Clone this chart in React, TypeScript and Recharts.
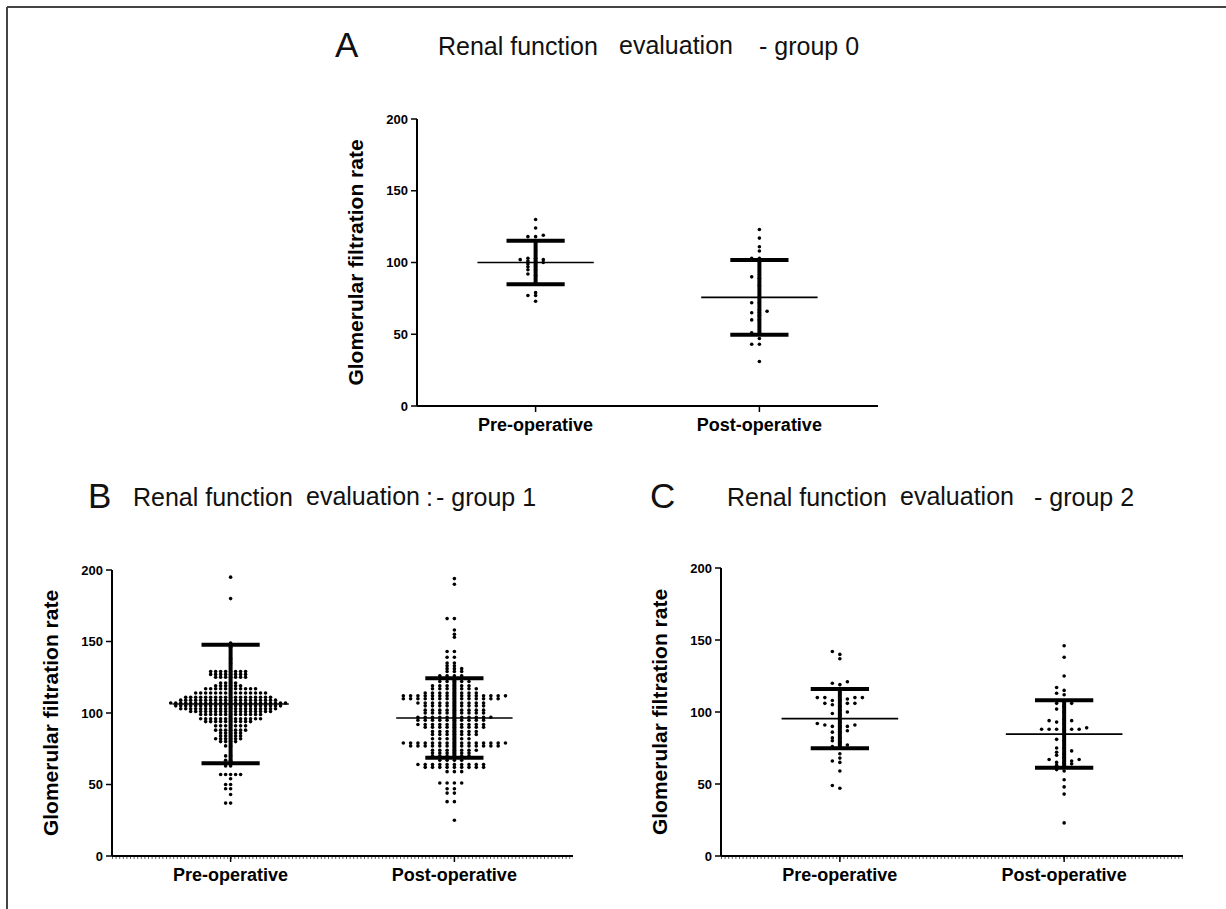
import { ScatterChart, Scatter, XAxis, YAxis, ReferenceLine } from "recharts";

const categories = ["Pre-operative", "Post-operative"];
const yTicks = [0, 50, 100, 150, 200];
const yLabel = "Glomerular filtration rate";

// group 0
const group0Pre = [130, 124, 119, 118, 118, 108, 103, 103, 102, 102, 101, 101, 100, 99, 99, 97, 97, 95, 95, 92, 91, 79, 77, 77, 73];
const group0Post = [123, 117, 111, 108, 103, 103, 90, 89, 84, 72, 72, 67, 66, 65, 65, 63, 60, 60, 51, 50, 47, 43, 43, 31];
const group0Mean = [100, 75.7];
const group0Sd = [15.2, 26];

// group 1
const group1Pre = [
  195, 180, 149, 146, 138, 135,
  129, 129, 129, 129, 129, 129, 129, 129,
  127, 127, 127, 127, 127, 127, 127, 127,
  125, 125, 125, 125, 125, 125, 125,
  121, 121, 121, 121,
  119, 119, 119, 119, 119, 119,
  117, 117, 117, 117, 117, 117, 117, 117, 117, 117, 117,
  114, 114, 114, 114, 114, 114, 114, 114, 114, 114, 114, 114, 114, 114, 114,
  111, 111, 111, 111, 111, 111, 111, 111, 111, 111, 111, 111, 111, 111, 111, 111, 111, 111,
  109, 109, 109, 109, 109, 109, 109, 109, 109, 109, 109, 109, 109, 109, 109, 109, 109, 109, 109, 109,
  107, 107, 107, 107, 107, 107, 107, 107, 107, 107, 107, 107, 107, 107, 107, 107, 107, 107, 107, 107, 107, 107, 107, 107,
  105, 105, 105, 105, 105, 105, 105, 105, 105, 105, 105, 105, 105, 105, 105, 105, 105, 105, 105, 105, 105, 105,
  103, 103, 103, 103, 103, 103, 103, 103, 103, 103, 103, 103, 103, 103, 103, 103, 103, 103, 103, 103,
  101, 101, 101, 101, 101, 101, 101, 101, 101, 101, 101, 101, 101, 101, 101, 101, 101,
  99, 99, 99, 99, 99, 99, 99, 99, 99, 99, 99, 99, 99,
  96, 96, 96, 96, 96, 96, 96, 96, 96, 96, 96, 96, 96,
  94, 94, 94, 94, 94, 94, 94, 94, 94, 94,
  91, 91, 91, 91, 91, 91, 91,
  88, 88, 88, 88, 88, 88, 88,
  86, 86, 86, 86, 86,
  84, 84, 84, 84, 84,
  82, 82, 82, 82, 82, 82,
  80, 80, 80, 80,
  77, 77, 70, 70, 67, 67, 63, 63,
  57, 57, 57, 57, 57, 54, 50, 50, 47, 47, 43, 37, 37,
];
const group1Post = [
  194, 190, 166, 166, 158, 155, 153, 143, 143, 139, 139, 135, 135, 133, 133,
  131, 131, 131, 129, 129, 129,
  126, 126, 126, 126, 124, 124, 124, 124,
  122, 122, 122, 122, 122,
  119, 119, 119, 119, 119, 119,
  117, 117, 117, 117, 117, 117, 117,
  114, 114, 114, 114, 114, 114, 114, 114,
  112, 112, 112, 112, 112, 112, 112, 112, 112, 112, 112, 112, 112, 112, 112,
  110, 110, 110, 110, 110, 110, 110, 110, 110, 110, 110, 110, 110, 110,
  107, 107, 107, 107, 107, 107, 107, 107, 107, 107,
  105, 105, 105, 105, 105, 105, 105, 105, 105,
  102, 102, 102, 102, 102, 102, 102, 102, 102,
  100, 100, 100, 100, 100, 100, 100, 100, 100,
  97, 97, 97, 97, 97, 97, 97, 97, 97, 97, 97,
  95, 95, 95, 95, 95, 95, 95, 95, 95, 95,
  92, 92, 92, 92, 92, 92, 92, 92, 92, 92,
  90, 90, 90, 90, 90, 90, 90, 90, 90,
  87, 87, 87, 87, 87, 87, 87,
  85, 85, 85, 85, 85, 85, 85,
  82, 82, 82, 82, 82, 82,
  79, 79, 79, 79, 79, 79, 79, 79, 79, 79, 79, 79, 79, 79, 79,
  77, 77, 77, 77, 77, 77, 77, 77, 77, 77, 77, 77, 77,
  74, 74, 74, 74, 74, 74, 74,
  72, 72, 72, 72, 72, 72,
  70, 70, 70, 70, 70, 70,
  67, 67, 67, 67,
  64, 64, 64, 64, 64, 64, 64, 64, 64, 64,
  62, 62, 62, 62, 62, 62, 62, 62, 62,
  59, 59, 59,
  51, 51, 51, 51, 47, 47, 44, 44, 38, 38, 25,
];
const group1Mean = [106.3, 96.5];
const group1Sd = [41.5, 27.8];

// group 2
const group2Pre = [142, 140, 137, 121, 120, 119, 110, 110, 110, 110, 109, 108, 108, 106, 106, 106, 105, 104, 101, 100, 99, 98, 93, 92, 91, 91, 90, 90, 90, 87, 86, 86, 82, 82, 80, 79, 77, 76, 75, 71, 68, 66, 65, 59, 49, 47];
const group2Post = [146, 138, 125, 117, 115, 113, 112, 106, 106, 104, 102, 100, 95, 94, 94, 93, 92, 89, 88, 88, 88, 88, 88, 88, 81, 80, 75, 75, 73, 72, 71, 70, 68, 67, 67, 66, 65, 65, 64, 63, 62, 60, 59, 53, 48, 43, 23];
const group2Mean = [95.4, 84.7];
const group2Sd = [20.6, 23.4];

const FONT = "'Liberation Sans', Arial, Helvetica, sans-serif";

// spread values of one column into rows, side by side like a dot plot
function swarm(values: number[], col: number, step: number, bin: number) {
  const sorted = [...values].sort((a, b) => a - b);
  const pts: { x: number; y: number }[] = [];
  let i = 0;
  while (i < sorted.length) {
    const start = sorted[i];
    const row: number[] = [];
    while (i < sorted.length && sorted[i] - start <= bin) {
      row.push(sorted[i]);
      i++;
    }
    row.forEach((v, j) => {
      const k = Math.ceil(j / 2) * (j % 2 === 1 ? -1 : 1);
      pts.push({ x: col + k * step, y: v });
    });
  }
  return pts;
}

const Dot = (props: any) => <circle cx={props.cx} cy={props.cy} r={1.8} fill="#000" />;

type PanelProps = {
  left: number;
  top: number;
  marginTop: number;
  plotH: number;
  plotW: number;
  yAxisW: number;
  labelOffset: number;
  minorTicks?: boolean;
  pre: number[];
  post: number[];
  mean: number[];
  sd: number[];
  steps: number[];
  bin: number;
};

function Panel(p: PanelProps) {
  const preData = swarm(p.pre, 0, p.steps[0], p.bin);
  const postData = swarm(p.post, 1, p.steps[1], p.bin);
  const xAxisH = 40;
  const width = p.yAxisW + p.plotW + 10;
  const height = p.marginTop + p.plotH + xAxisH;

  const bars = [0, 1].map((i) => {
    const m = p.mean[i];
    const s = p.sd[i];
    return [
      <ReferenceLine key={`m${i}`} segment={[{ x: i - 0.26, y: m }, { x: i + 0.26, y: m }]} stroke="#000" strokeWidth={1.7} />,
      <ReferenceLine key={`v${i}`} segment={[{ x: i, y: m - s }, { x: i, y: m + s }]} stroke="#000" strokeWidth={4} />,
      <ReferenceLine key={`u${i}`} segment={[{ x: i - 0.13, y: m + s }, { x: i + 0.13, y: m + s }]} stroke="#000" strokeWidth={4} />,
      <ReferenceLine key={`l${i}`} segment={[{ x: i - 0.13, y: m - s }, { x: i + 0.13, y: m - s }]} stroke="#000" strokeWidth={4} />,
    ];
  });

  return (
    <div style={{ position: "absolute", left: p.left, top: p.top }}>
      {p.minorTicks && (
        <svg width={width} height={height} style={{ position: "absolute", left: 0, top: 0 }}>
          <line x1={p.yAxisW} x2={p.yAxisW + p.plotW} y1={p.marginTop + p.plotH + 2} y2={p.marginTop + p.plotH + 2}
            stroke="#666" strokeWidth={2} strokeDasharray="1 2.6" />
        </svg>
      )}
      <ScatterChart width={width} height={height} margin={{ top: p.marginTop, right: 10, bottom: 0, left: 0 }}>
        <XAxis
          type="number"
          dataKey="x"
          domain={[-0.53, 1.53]}
          allowDataOverflow
          ticks={[0, 1]}
          tickFormatter={(v: number) => categories[Math.round(v)]}
          height={xAxisH}
          axisLine={{ stroke: "#000", strokeWidth: 2 }}
          tickLine={{ stroke: "#000", strokeWidth: 1.5 }}
          tickSize={6}
          tickMargin={6}
          tick={{ fill: "#000", fontSize: 18, fontWeight: "bold", fontFamily: FONT }}
        />
        <YAxis
          type="number"
          dataKey="y"
          domain={[0, 200]}
          allowDataOverflow
          ticks={yTicks}
          width={p.yAxisW}
          axisLine={{ stroke: "#000", strokeWidth: 2 }}
          tickLine={{ stroke: "#000", strokeWidth: 1.5 }}
          tickSize={6}
          tickMargin={3}
          tick={{ fill: "#000", fontSize: 13, fontWeight: "bold", fontFamily: FONT }}
          label={{
            value: yLabel,
            angle: -90,
            position: "insideLeft",
            offset: p.labelOffset,
            style: { textAnchor: "middle", fontSize: 21, fontWeight: "bold", fill: "#000", fontFamily: FONT },
          }}
        />
        <Scatter data={preData} shape={Dot} isAnimationActive={false} />
        <Scatter data={postData} shape={Dot} isAnimationActive={false} />
        {bars}
      </ScatterChart>
    </div>
  );
}

const titleStyle = { fontFamily: FONT, fontSize: 25, fill: "#111" };
const letterStyle = { fontFamily: FONT, fontSize: 35, fill: "#111" };

export default function App() {
  return (
    <div style={{ position: "absolute", left: 0, top: 0, width: 1226, height: 909, background: "#fff", overflow: "hidden" }}>
      <svg width={1226} height={909} style={{ position: "absolute", left: 0, top: 0 }}>
        <line x1={7} y1={7} x2={1226} y2={7} stroke="#444" strokeWidth={2} />
        <line x1={7} y1={7} x2={7} y2={909} stroke="#444" strokeWidth={2} />

        <text x={335} y={57} style={letterStyle}>A</text>
        <text x={438} y={55} style={titleStyle}>Renal function</text>
        <text x={619} y={54} style={titleStyle}>evaluation</text>
        <text x={759} y={55} style={titleStyle}>- group 0</text>

        <text x={88} y={508} style={letterStyle}>B</text>
        <text x={133} y={506} style={titleStyle}>Renal function</text>
        <text x={306} y={505} style={titleStyle}>evaluation</text>
        <text x={426} y={506} style={titleStyle}>:</text>
        <text x={436} y={506} style={titleStyle}>- group 1</text>

        <text x={650} y={508} style={letterStyle}>C</text>
        <text x={727} y={506} style={titleStyle}>Renal function</text>
        <text x={900} y={505} style={titleStyle}>evaluation</text>
        <text x={1034} y={506} style={titleStyle}>- group 2</text>
      </svg>

      <Panel left={300} top={100} marginTop={19} plotH={287} plotW={461} yAxisW={117} labelOffset={56}
        pre={group0Pre} post={group0Post} mean={group0Mean} sd={group0Sd} steps={[0.0344, 0.0344]} bin={1.6} />
      <Panel left={0} top={540} marginTop={30} plotH={286} plotW={461} yAxisW={112} labelOffset={51} minorTicks
        pre={group1Pre} post={group1Post} mean={group1Mean} sd={group1Sd} steps={[0.0223, 0.0326]} bin={1.5} />
      <Panel left={600} top={540} marginTop={28} plotH={288} plotW={462} yAxisW={121} labelOffset={60} minorTicks
        pre={group2Pre} post={group2Post} mean={group2Mean} sd={group2Sd} steps={[0.0335, 0.0335]} bin={2.6} />
    </div>
  );
}
